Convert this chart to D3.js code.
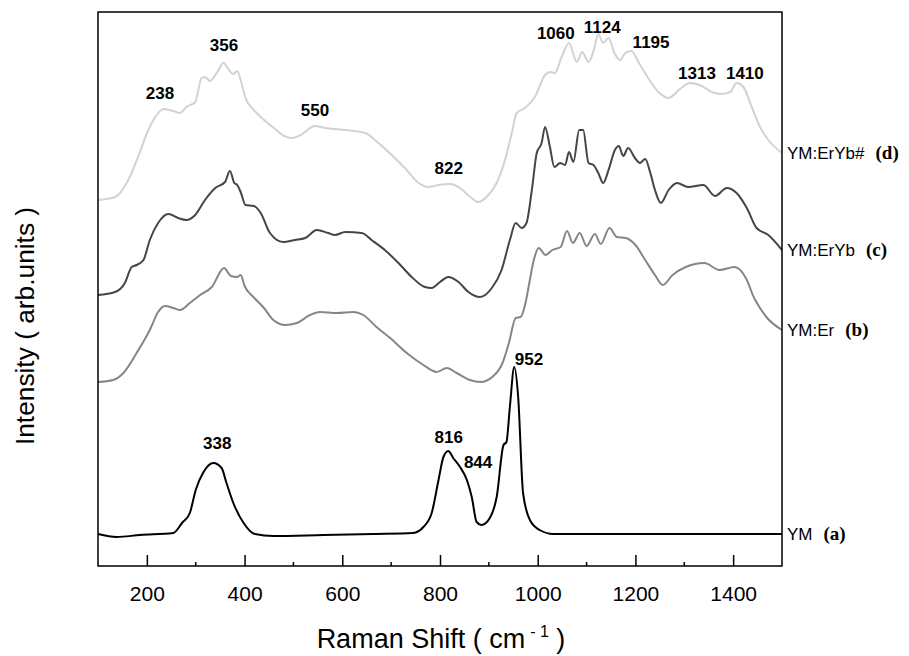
<!DOCTYPE html>
<html>
<head>
<meta charset="utf-8">
<script src="https://cdn.jsdelivr.net/npm/d3@7"></script>
<style>
  body { margin: 0; background: #fff; }
  svg { display: block; }
  text { font-family: "Liberation Sans", Arial, sans-serif; }
</style>
</head>
<body>
<div id="chart"></div>
<script>
"use strict";

// Raman shift (cm-1) and intensity (arb. units)
const shiftD = [100,135,162,182,203,220,234,254,268,281,299,312,319,329,343,357,368,377,385,392,402,419,440,460,481,496,515,544,564,585,606,647,674,701,728,756,776,797,821,841,862,879,899,916,933,947,957,974,994,1015,1025,1035,1049,1064,1080,1091,1104,1116,1124,1134,1145,1157,1169,1179,1192,1206,1226,1247,1268,1291,1312,1336,1356,1376,1394,1407,1421,1438,1455,1472,1500];
const intD   = [366,369,386,409,436,451,457,455,453,459,464,488,489,485,493,503,496,492,495,486,468,456,446,438,430,428,431,440,438,437,436,433,423,411,398,383,379,381,382,378,369,364,371,383,406,433,453,458,469,491,494,493,509,523,504,514,504,518,532,523,528,513,506,513,515,504,488,474,468,477,483,480,474,472,474,483,479,459,439,426,413];

const shiftC = [100,135,155,169,179,193,206,223,244,264,281,299,319,340,360,370,379,385,392,402,419,433,452,479,503,524,548,571,585,606,640,660,687,715,742,769,783,800,817,838,858,882,906,926,943,955,967,977,988,998,1008,1015,1025,1034,1046,1056,1064,1073,1085,1093,1104,1114,1124,1134,1145,1158,1166,1175,1185,1199,1209,1220,1230,1240,1252,1268,1285,1308,1339,1363,1387,1407,1428,1448,1472,1500];
const intC   = [271,274,283,299,301,306,326,343,352,348,346,351,366,378,384,395,383,381,374,361,360,353,333,324,326,328,336,333,331,334,333,326,316,303,289,279,278,284,289,284,274,269,278,296,326,343,338,343,376,413,423,439,419,399,403,401,414,404,436,436,403,401,393,383,396,416,420,410,418,408,403,407,394,376,363,376,383,379,381,370,378,373,358,338,331,316];

const shiftB = [100,131,152,179,206,223,237,254,268,288,309,333,358,372,385,392,400,418,438,459,483,507,534,554,589,623,643,670,698,732,766,793,814,834,861,883,907,928,941,955,965,975,982,992,1002,1016,1030,1047,1060,1072,1086,1100,1117,1129,1147,1162,1180,1200,1220,1240,1256,1276,1303,1341,1372,1403,1426,1443,1455,1468,1500];
const intB   = [184,186,193,213,236,254,260,258,256,263,271,279,298,290,289,291,280,269,259,246,241,243,251,254,253,254,251,239,228,213,201,194,198,193,186,184,189,203,223,248,249,263,281,306,318,311,316,319,335,323,333,320,332,322,338,329,328,321,306,291,281,291,299,303,296,299,288,268,258,249,236];

const shiftA = [100,138,186,254,272,288,300,316,336,353,363,377,398,421,459,561,664,745,766,783,797,807,817,827,841,855,865,875,885,902,916,930,936,943,952,960,970,984,1004,1032,1155,1291,1500];
const intA   = [32,29,31,33,43,53,76,94,103,98,83,63,43,32,30,31,32,33,39,53,86,109,115,108,99,86,69,44,41,48,69,121,124,159,199,169,73,46,36,32,32,32,32];

const seriesNames  = ["YM:ErYb#", "YM:ErYb", "YM:Er", "YM"];
const seriesTags   = ["(d)", "(c)", "(b)", "(a)"];
const seriesColors = ["#d2d2d2", "#454545", "#868686", "#000000"];

// peak annotations: label, shift, intensity
const peakText  = ["238","356","550","822","1060","1124","1195","1313","1410","338","816","844","952"];
const peakShift = [227,358,544,818,1037,1132,1232,1326,1424,344,818,878,982];
const peakInt   = [473,521,456,398,533,539,524,493,493,123,129,104,207];

const xTicks = [200,400,600,800,1000,1200,1400];
const xMinor = [300,500,700,900,1100,1300];

const W = 909, H = 656;
const margin = {top: 12, right: 127, bottom: 90, left: 98};
const width = W - margin.left - margin.right;
const height = H - margin.top - margin.bottom;

const svg = d3.select("#chart").append("svg")
    .attr("width", W)
    .attr("height", H);
const g = svg.append("g")
    .attr("transform", "translate(" + margin.left + "," + margin.top + ")");

const x = d3.scaleLinear().domain([100, 1500]).range([0, width]);
const y = d3.scaleLinear().domain([0, 554]).range([height, 0]);

const series = [
    {shift: shiftD, val: intD},
    {shift: shiftC, val: intC},
    {shift: shiftB, val: intB},
    {shift: shiftA, val: intA}
];

const line = d3.line()
    .x(function(d) { return x(d[0]); })
    .y(function(d) { return y(d[1]); })
    .curve(d3.curveMonotoneX);

series.forEach(function(s, k) {
    const pts = s.shift.map(function(v, i) { return [v, s.val[i]]; });
    g.append("path")
        .datum(pts)
        .attr("fill", "none")
        .attr("stroke", seriesColors[k])
        .attr("stroke-width", 2)
        .attr("stroke-linejoin", "round")
        .attr("d", line);

    // label on the right, at the height where the trace ends
    const last = pts[pts.length - 1];
    const lab = g.append("text")
        .attr("x", width + 5)
        .attr("y", y(last[1]))
        .attr("dy", "0.35em")
        .style("font-size", "17px");
    lab.append("tspan").text(seriesNames[k]);
    lab.append("tspan")
        .attr("dx", 11)
        .style("font-family", "'Liberation Serif', 'Times New Roman', serif")
        .style("font-weight", "bold")
        .style("font-size", "19px")
        .text(seriesTags[k]);
});

// peak labels
g.selectAll("text.peak")
    .data(peakText)
    .enter()
    .append("text")
    .attr("class", "peak")
    .attr("x", function(d, i) { return x(peakShift[i]); })
    .attr("y", function(d, i) { return y(peakInt[i]); })
    .attr("dy", "0.35em")
    .attr("text-anchor", "middle")
    .style("font-size", "17px")
    .style("font-weight", "bold")
    .text(function(d) { return d; });

// frame
g.append("rect")
    .attr("width", width)
    .attr("height", height)
    .attr("fill", "none")
    .attr("stroke", "#000")
    .attr("stroke-width", 1.5);

// bottom axis, ticks pointing inwards
const xAxis = d3.axisBottom(x)
    .tickValues(xTicks)
    .tickFormat(d3.format("d"))
    .tickSizeInner(-11)
    .tickSizeOuter(0)
    .tickPadding(20);
const ax = g.append("g")
    .attr("transform", "translate(0," + height + ")")
    .call(xAxis);
ax.select(".domain").remove();
ax.selectAll(".tick line").attr("stroke-width", 1.5);
ax.selectAll(".tick text")
    .style("font-size", "21px")
    .style("font-family", "'Liberation Sans', Arial, sans-serif");

g.append("g")
    .selectAll("line")
    .data(xMinor)
    .enter()
    .append("line")
    .attr("x1", function(d) { return x(d); })
    .attr("x2", function(d) { return x(d); })
    .attr("y1", height)
    .attr("y2", height - 4)
    .attr("stroke", "#000")
    .attr("stroke-width", 1.5);

// axis titles
const xt = svg.append("text")
    .attr("x", 441)
    .attr("y", 648)
    .attr("text-anchor", "middle")
    .style("font-size", "27px");
xt.append("tspan").text("Raman Shift ( cm");
xt.append("tspan").attr("dy", -11).attr("dx", 5).style("font-size", "16px").text("- 1");
xt.append("tspan").attr("dy", 11).text(" )");

svg.append("text")
    .attr("transform", "translate(34," + 326 + ") rotate(-90)")
    .attr("text-anchor", "middle")
    .style("font-size", "26.3px")
    .text("Intensity ( arb.units )");
</script>
</body>
</html>
